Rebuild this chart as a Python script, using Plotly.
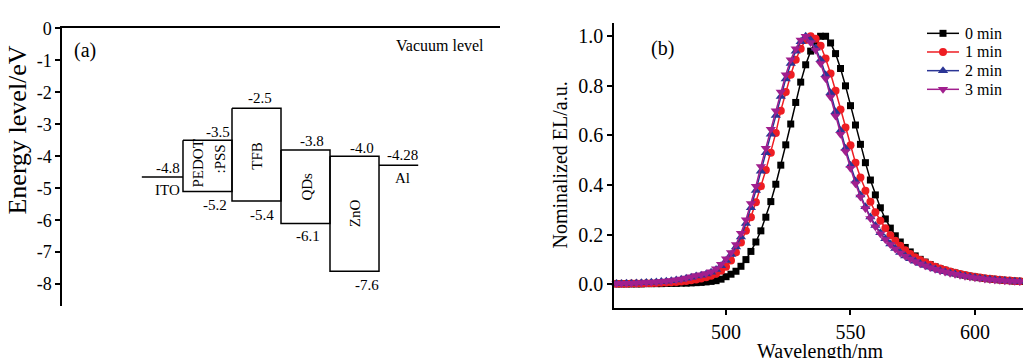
import plotly.graph_objects as go

# ---------------- Panel (a): energy levels ----------------
layers = ["PEDOT:PSS", "TFB", "QDs", "ZnO"]
layer_top = [-3.5, -2.5, -3.8, -4.0]
layer_bottom = [-5.1, -5.4, -6.1, -7.6]
layer_top_text = ["-3.5", "-2.5", "-3.8", "-4.0"]
layer_bottom_text = ["-5.2", "-5.4", "-6.1", "-7.6"]
electrodes = ["ITO", "Al"]
electrode_level = [-4.65, -4.28]
electrode_text = ["-4.8", "-4.28"]
energy_ticks = [0, -1, -2, -3, -4, -5, -6, -7, -8]
energy_ticktext = ["0", "-1", "-2", "-3", "-4", "-5", "-6", "-7", "-8"]

# ---------------- Panel (b): EL spectra ----------------
wavelength = list(range(456, 621, 2))
el_0min = [0.001, 0.001, 0.001, 0.001, 0.001, 0.001, 0.002, 0.002, 0.002, 0.002,
           0.003, 0.003, 0.003, 0.004, 0.004, 0.005, 0.006, 0.007, 0.009, 0.011,
           0.014, 0.02, 0.03, 0.04, 0.052, 0.072, 0.099, 0.132, 0.17, 0.215,
           0.27, 0.333, 0.403, 0.48, 0.562, 0.646, 0.733, 0.815, 0.885, 0.94,
           0.98, 1.0, 1.0, 0.973, 0.93, 0.87, 0.80, 0.72, 0.642, 0.564,
           0.49, 0.42, 0.36, 0.308, 0.263, 0.226, 0.195, 0.17, 0.148, 0.13,
           0.114, 0.1, 0.089, 0.079, 0.07, 0.062, 0.056, 0.05, 0.045, 0.04,
           0.036, 0.032, 0.029, 0.026, 0.023, 0.021, 0.019, 0.017, 0.015, 0.014,
           0.012, 0.011, 0.01]
el_1min = [0.002, 0.002, 0.002, 0.003, 0.003, 0.003, 0.004, 0.004, 0.005, 0.006,
           0.007, 0.008, 0.009, 0.011, 0.013, 0.016, 0.019, 0.023, 0.028, 0.034,
           0.042, 0.054, 0.07, 0.095, 0.128, 0.168, 0.215, 0.27, 0.33, 0.395,
           0.46, 0.53, 0.61, 0.70, 0.775, 0.845, 0.905, 0.95, 0.985, 1.0,
           0.99, 0.962, 0.91, 0.85, 0.78, 0.705, 0.632, 0.56, 0.49, 0.43,
           0.377, 0.332, 0.29, 0.256, 0.225, 0.197, 0.175, 0.155, 0.137, 0.122,
           0.108, 0.097, 0.087, 0.078, 0.07, 0.063, 0.057, 0.051, 0.046, 0.041,
           0.037, 0.033, 0.03, 0.027, 0.024, 0.022, 0.02, 0.018, 0.016, 0.015,
           0.013, 0.012, 0.011]
el_2min = [0.003, 0.003, 0.004, 0.004, 0.005, 0.006, 0.007, 0.008, 0.009, 0.011,
           0.012, 0.014, 0.017, 0.02, 0.024, 0.028, 0.033, 0.036, 0.041, 0.048,
           0.059, 0.074, 0.095, 0.12, 0.15, 0.19, 0.245, 0.308, 0.378, 0.455,
           0.53, 0.605, 0.68, 0.757, 0.828, 0.89, 0.94, 0.978, 1.0, 0.985,
           0.952, 0.905, 0.845, 0.772, 0.695, 0.62, 0.548, 0.48, 0.416, 0.36,
           0.312, 0.271, 0.237, 0.207, 0.183, 0.162, 0.144, 0.128, 0.114, 0.102,
           0.092, 0.083, 0.075, 0.068, 0.061, 0.055, 0.05, 0.045, 0.041, 0.037,
           0.033, 0.03, 0.027, 0.024, 0.022, 0.02, 0.018, 0.016, 0.015, 0.013,
           0.012, 0.011, 0.01]
el_3min = [0.003, 0.003, 0.004, 0.004, 0.005, 0.006, 0.007, 0.008, 0.009, 0.011,
           0.013, 0.015, 0.018, 0.021, 0.025, 0.03, 0.035, 0.038, 0.043, 0.05,
           0.062, 0.08, 0.102, 0.128, 0.16, 0.205, 0.26, 0.325, 0.395, 0.475,
           0.548, 0.625, 0.70, 0.775, 0.845, 0.905, 0.95, 0.985, 1.0, 0.975,
           0.945, 0.89, 0.83, 0.755, 0.678, 0.605, 0.535, 0.468, 0.405, 0.352,
           0.305, 0.265, 0.232, 0.203, 0.18, 0.16, 0.142, 0.126, 0.113, 0.101,
           0.091, 0.082, 0.074, 0.067, 0.06, 0.054, 0.049, 0.044, 0.04, 0.036,
           0.032, 0.029, 0.026, 0.024, 0.021, 0.019, 0.017, 0.016, 0.014, 0.013,
           0.012, 0.011, 0.01]
series_names = ["0 min", "1 min", "2 min", "3 min"]
series_values = [el_0min, el_1min, el_2min, el_3min]
wl_ticks = [500, 550, 600]
el_ticks = [0.0, 0.2, 0.4, 0.6, 0.8, 1.0]
el_ticktext = ["0.0", "0.2", "0.4", "0.6", "0.8", "1.0"]

# ---------------- styles ----------------
FONT = "Liberation Serif, Times New Roman, serif"
colors = ["#000000", "#ee1d23", "#2b3595", "#a11f8e"]
symbols = ["square", "circle", "triangle-up", "triangle-down"]
msizes = [7, 8, 9, 9]
W, H = 1023, 358

fig = go.Figure()

# layer boxes: box i spans [i, i+1] on the schematic x axis
for i, name in enumerate(layers):
    x0, x1 = i, i + 1
    fig.add_trace(go.Scatter(
        x=[x0, x1, x1, x0, x0],
        y=[layer_top[i], layer_top[i], layer_bottom[i], layer_bottom[i], layer_top[i]],
        mode="lines", line=dict(color="black", width=1.5),
        showlegend=False, hoverinfo="skip", xaxis="x", yaxis="y"))
# electrodes
fig.add_trace(go.Scatter(x=[-0.84, 0], y=[electrode_level[0]] * 2, mode="lines",
                         line=dict(color="black", width=1.5), showlegend=False,
                         xaxis="x", yaxis="y"))
fig.add_trace(go.Scatter(x=[len(layers), len(layers) + 0.8], y=[electrode_level[1]] * 2,
                         mode="lines", line=dict(color="black", width=1.5),
                         showlegend=False, xaxis="x", yaxis="y"))

# spectra
for name, vals, c, s, ms in zip(series_names, series_values, colors, symbols, msizes):
    fig.add_trace(go.Scatter(
        x=wavelength, y=vals, name=name, mode="lines+markers",
        line=dict(color=c, width=1.5),
        marker=dict(symbol=s, size=ms, color=c, line=dict(width=0)),
        cliponaxis=False, showlegend=False, xaxis="x2", yaxis="y2"))

ann = []
def lab(x, y, t, size=15, angle=0, ref=("x", "y"), xa="center", ya="middle"):
    ann.append(dict(x=x, y=y, xref=ref[0], yref=ref[1], text=t, showarrow=False,
                    textangle=angle, xanchor=xa, yanchor=ya,
                    font=dict(family=FONT, size=size, color="black")))

# legend drawn on an overlay axis in pixel units (layout, not data)
LEG_X0, LEG_X1, LEG_TXT, LEG_Y0, LEG_DY = 927, 959, 963, 24, 19.2
for k, (name, c, s, ms) in enumerate(zip(series_names, colors, symbols, msizes)):
    yk = LEG_Y0 + k * LEG_DY
    fig.add_trace(go.Scatter(x=[LEG_X0, LEG_X1], y=[yk, yk], mode="lines",
                             line=dict(color=c, width=1.5), showlegend=False,
                             hoverinfo="skip", xaxis="x3", yaxis="y3"))
    fig.add_trace(go.Scatter(x=[(LEG_X0 + LEG_X1) / 2], y=[yk], mode="markers",
                             marker=dict(symbol=s, size=ms, color=c, line=dict(width=0)),
                             showlegend=False, hoverinfo="skip", xaxis="x3", yaxis="y3"))
    lab(LEG_TXT, yk, name, size=16, ref=("x3", "y3"), xa="left")

# energy label placements (schematic units)
top_pos = [(0.71, -3.25), (1.57, -2.19), (2.63, -3.53), (3.65, -3.74)]
bot_pos = [(0.65, -5.53), (1.61, -5.84), (2.55, -6.50), (3.76, -8.02)]
for (px, py), t in zip(top_pos, layer_top_text):
    lab(px, py, t)
for (px, py), t in zip(bot_pos, layer_bottom_text):
    lab(px, py, t)
lab(-0.31, -4.38, electrode_text[0])
lab(-0.31, -5.05, electrodes[0])
lab(4.47, -3.95, electrode_text[1])
lab(4.47, -4.68, electrodes[1])
lab(0.31, -4.22, "PEDOT", angle=-90)
lab(0.755, -4.07, ":PSS", angle=-90)
lab(1.51, -3.98, "TFB", angle=-90)
lab(2.53, -4.95, "QDs", angle=-90)
lab(3.51, -5.78, "ZnO", angle=-90)

P = ("paper", "paper")
lab(85 / W, 1 - 42 / H, "(a)", size=20, ref=P)
lab(440 / W, 1 - 37 / H, "Vacuum level", size=16, ref=P)
lab(662 / W, 1 - 40 / H, "(b)", size=20, ref=P)
lab(18 / W, 1 - 124 / H, "Energy level/eV", size=26, angle=-90, ref=P)
lab(560 / W, 1 - 160 / H, "Nominalized EL/a.u.", size=20, angle=-90, ref=P)
lab(820 / W, 1 - 351 / H, "Wavelength/nm", size=20, ref=P)

axis_common = dict(showgrid=False, zeroline=False, showline=True, linecolor="black",
                   linewidth=1.5, tickcolor="black", ticks="outside", ticklen=5,
                   tickwidth=1.5)

fig.update_layout(
    width=W, height=H, margin=dict(l=0, r=0, t=0, b=0),
    paper_bgcolor="white", plot_bgcolor="rgba(0,0,0,0)",
    font=dict(family=FONT, color="black"),
    annotations=ann, showlegend=False,
    xaxis=dict(domain=[62 / W, 500 / W], range=[-2.469, 6.469], side="top",
               showgrid=False, zeroline=False, showline=True, linecolor="black",
               linewidth=1.5, ticks="", showticklabels=False, anchor="y"),
    yaxis=dict(domain=[(H - 305) / H, (H - 19) / H], range=[-8.7, 0],
               tickvals=energy_ticks, ticktext=energy_ticktext,
               tickfont=dict(family=FONT, size=18), anchor="x", **axis_common),
    xaxis2=dict(domain=[614 / W, 1.0], range=[455, 619.3], tickvals=wl_ticks,
                tickfont=dict(family=FONT, size=20), anchor="y2", **axis_common),
    yaxis2=dict(domain=[(H - 307) / H, (H - 13) / H], range=[-0.098, 1.055],
                tickvals=el_ticks, ticktext=el_ticktext,
                tickfont=dict(family=FONT, size=20), anchor="x2", **axis_common),
    xaxis3=dict(domain=[0, 1], range=[0, W], visible=False, anchor="y3"),
    yaxis3=dict(domain=[0, 1], range=[H, 0], visible=False, anchor="x3"),
)

fig.write_html("out.html")
